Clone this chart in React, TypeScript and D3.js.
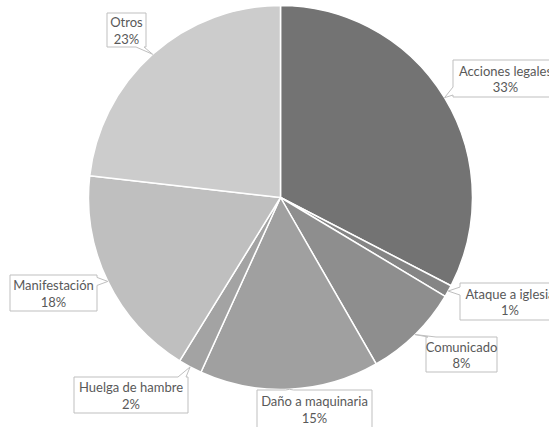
import React from "react";
import * as d3 from "d3";

const categories = [
  "Acciones legales",
  "Ataque a iglesia",
  "Comunicado",
  "Daño a maquinaria",
  "Huelga de hambre",
  "Manifestación",
  "Otros",
];
const values = [32.6, 1.0, 8.1, 15.1, 2.0, 18.0, 23.2];
const colors = ["#737373", "#858585", "#8e8e8e", "#a0a0a0", "#a3a3a3", "#bfbfbf", "#cccccc"];

// label box layout: [x0, y0, x1, y1, side]
const labelBoxes: [number, number, number, number, string][] = [
  [453, 60, 558, 97, "left"],
  [460, 283, 560, 320, "left"],
  [426, 337, 497, 372, "top"],
  [257, 390, 372, 428, "top"],
  [74, 377, 188, 413, "top"],
  [10, 275, 97, 311, "right"],
  [107, 13, 146, 47, "bottom"],
];

const W = 549;
const H = 427;
const CX = 280.5;
const CY = 197.5;
const R = 192;

function calloutPath(x0: number, y0: number, x1: number, y1: number, side: string, tx: number, ty: number) {
  const hw = 4;
  const clamp = (v: number, a: number, b: number) => Math.max(a, Math.min(b, v));
  const pts: [number, number][] = [];
  pts.push([x0, y0]);
  if (side === "top") {
    const c = clamp(tx, x0 + 6, x1 - 6);
    pts.push([c - hw, y0], [tx, ty], [c + hw, y0]);
  }
  pts.push([x1, y0]);
  if (side === "right") {
    const c = clamp(ty, y0 + 6, y1 - 6);
    pts.push([x1, c - hw], [tx, ty], [x1, c + hw]);
  }
  pts.push([x1, y1]);
  if (side === "bottom") {
    const c = clamp(tx, x0 + 6, x1 - 6);
    pts.push([c + hw, y1], [tx, ty], [c - hw, y1]);
  }
  pts.push([x0, y1]);
  if (side === "left") {
    const c = clamp(ty, y0 + 6, y1 - 6);
    pts.push([x0, c + hw], [tx, ty], [x0, c - hw]);
  }
  return "M" + pts.map((p) => p.join(",")).join("L") + "Z";
}

export default function App() {
  const total = d3.sum(values);
  const pie = d3.pie<number>().sort(null).value((d) => d);
  const arcs = pie(values);
  const arc = d3.arc<d3.PieArcDatum<number>>().innerRadius(0).outerRadius(R);
  const font = "Lato, 'Open Sans', sans-serif";
  return (
    <svg width={W} height={H} style={{ position: "absolute", left: 0, top: 0, background: "#fff" }}>
      <g transform={`translate(${CX},${CY})`}>
        {arcs.map((a, i) => (
          <path key={i} d={arc(a) || ""} fill={colors[i]} stroke="#fff" strokeWidth={1.5} strokeLinejoin="round" />
        ))}
      </g>
      {arcs.map((a, i) => {
        const mid = (a.startAngle + a.endAngle) / 2;
        const tx = CX + R * Math.sin(mid);
        const ty = CY - R * Math.cos(mid);
        const [x0, y0, x1, y1, side] = labelBoxes[i];
        const cx = (x0 + x1) / 2;
        const cy = (y0 + y1) / 2;
        const pct = Math.round((values[i] / total) * 100) + "%";
        return (
          <g key={"l" + i}>
            <path d={calloutPath(x0, y0, x1, y1, side, tx, ty)} fill="#fff" stroke="#bfbfbf" strokeWidth={1} />
            <text x={cx} y={cy - 8} textAnchor="middle" dominantBaseline="central" fontFamily={font} fontSize={13} fill="#595959">
              {categories[i]}
            </text>
            <text x={cx} y={cy + 8.5} textAnchor="middle" dominantBaseline="central" fontFamily={font} fontSize={13} fill="#595959">
              {pct}
            </text>
          </g>
        );
      })}
    </svg>
  );
}
